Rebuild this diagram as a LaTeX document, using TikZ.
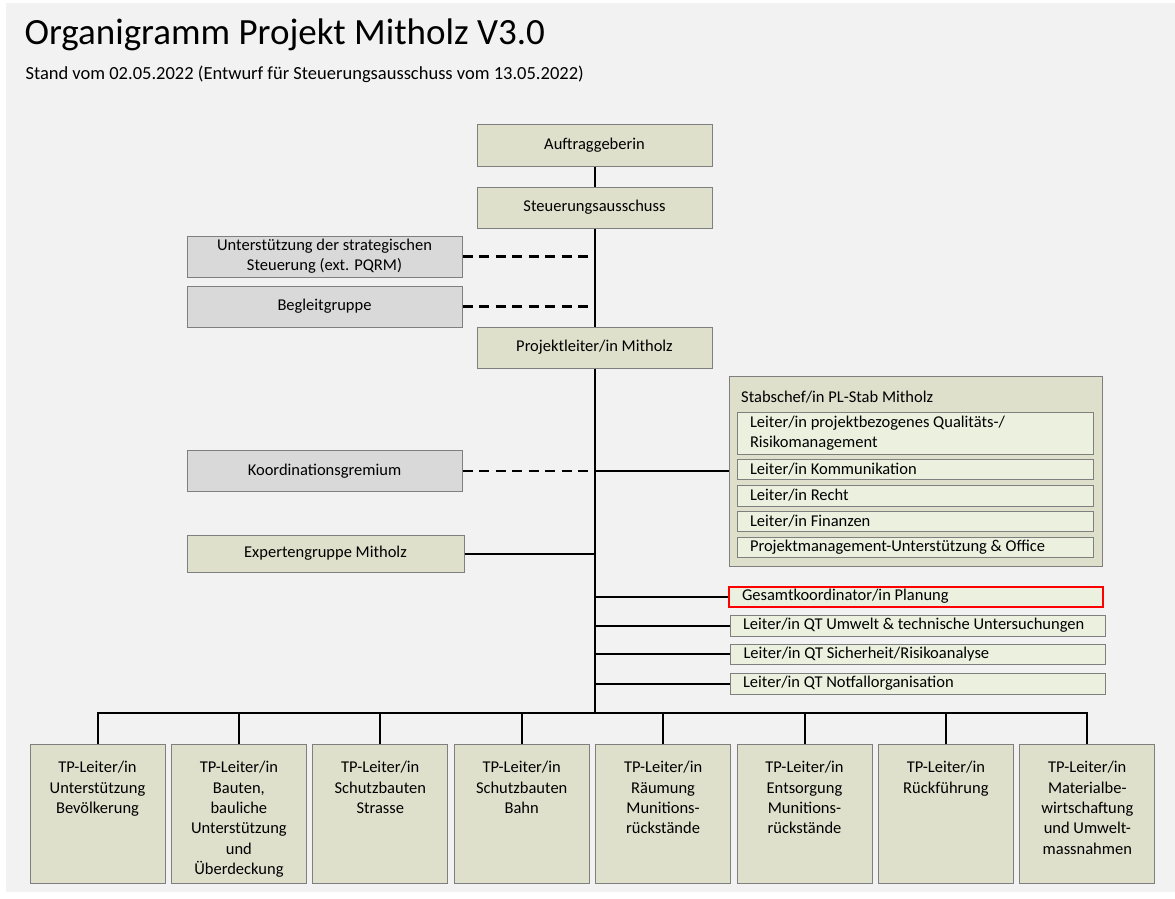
\documentclass[tikz,border=0pt]{standalone}
\usepackage{fontspec}
\setmainfont{Carlito}
\usepackage{tikz}

\definecolor{pagegray}{HTML}{F2F2F2}
\definecolor{olivebox}{HTML}{DEE0CB}
\definecolor{lightbox}{HTML}{EBF0DF}
\definecolor{graybox}{HTML}{D9D9D9}
\definecolor{boxline}{HTML}{7F7F7F}

\newcommand{\tptext}[1]{\parbox[t][105pt][t]{130pt}{\centering #1}}

\begin{document}
\begin{tikzpicture}[x=1pt, y=-1pt,
    box/.style={draw=boxline, fill=olivebox, line width=1pt, inner sep=0pt, align=flush center, font=\fontsize{16.5}{20.3}\selectfont},
    grey/.style={box, fill=graybox},
    stabitem/.style={draw=boxline, fill=lightbox, line width=1pt, inner xsep=13pt, inner ysep=0pt, text width=330pt, align=flush left, font=\fontsize{16.5}{20.5}\selectfont},
    qtitem/.style={stabitem, text width=349pt},
    tpbox/.style={box, anchor=north, minimum width=135pt, inner ysep=17pt},
    conn/.style={draw, line width=2pt},
    dashconn/.style={draw, line width=2.3pt, dash pattern=on 10pt off 6.5pt}]
    \fill[white] (0,0) rectangle (1175,899);
    \fill[pagegray] (6,3) rectangle (1175,892);

    \node[anchor=base west, font=\fontsize{37}{44}\selectfont] (title) at (21,45) {Organigramm Projekt Mitholz V3.0};
    \node[anchor=base west, font=\fontsize{18.5}{22}\selectfont] (subtitle) at (22,79) {Stand vom 02.05.2022 (Entwurf für Steuerungsausschuss vom 13.05.2022)};

    \node[box, minimum width=235pt, minimum height=42pt] (auftrag) at (594.5,145) {Auftraggeberin};
    \node[box, minimum width=235pt, minimum height=41pt] (steuer) at (594.5,207.5) {Steuerungsausschuss};
    \node[grey, minimum width=275pt, minimum height=41pt] (strat) at (324.5,256.5) {Unterstützung der strategischen\\Steuerung (ext. PQRM)};
    \node[grey, minimum width=275pt, minimum height=41pt] (begleit) at (324.5,306.5) {Begleitgruppe};
    \node[box, minimum width=235pt, minimum height=41pt] (pl) at (594.5,347.5) {Projektleiter/in Mitholz};
    \node[grey, minimum width=275pt, minimum height=41pt] (koord) at (324.5,471) {Koordinationsgremium};
    \node[box, minimum width=277pt, minimum height=37pt] (experten) at (325.5,553.5) {Expertengruppe Mitholz};

    % PL-Stab
    \node[box, minimum width=373pt, minimum height=190pt] (stab) at (915.5,471) {};
    \node[anchor=west, font=\fontsize{16.5}{20}\selectfont, inner sep=0pt] (stabchef) at (741,397) {Stabschef/in PL-Stab Mitholz};
    \node[stabitem, minimum height=42pt] (qrm) at (915,433) {Leiter/in projektbezogenes Qualitäts-/\\Risikomanagement};
    \node[stabitem, minimum height=20pt] (komm) at (915,469) {Leiter/in Kommunikation};
    \node[stabitem, minimum height=21pt] (recht) at (915,495.5) {Leiter/in Recht};
    \node[stabitem, minimum height=20pt] (finanz) at (915,521) {Leiter/in Finanzen};
    \node[stabitem, minimum height=20pt] (pmo) at (915,547) {Projektmanagement-Unterstützung \& Office};

    % Querschnitt
    \node[qtitem, draw=red, line width=2pt, minimum height=20pt, text width=348pt] (gesamt) at (916,596.5) {Gesamtkoordinator/in Planung};
    \node[qtitem, minimum height=21pt] (umwelt) at (917.5,625.5) {Leiter/in QT Umwelt \& technische Untersuchungen};
    \node[qtitem, minimum height=20pt] (sicher) at (918,654) {Leiter/in QT Sicherheit/Risikoanalyse};
    \node[qtitem, minimum height=21pt] (notfall) at (917.5,683.5) {Leiter/in QT Notfallorganisation};

    % Teilprojekte
    \node[tpbox] (tpa) at (97.5,744) {\tptext{TP-Leiter/in\\Unterstützung\\Bevölkerung}};
    \node[tpbox] (tpb) at (238.9,744) {\tptext{TP-Leiter/in\\Bauten,\\bauliche\\Unterstützung\\und\\Überdeckung}};
    \node[tpbox] (tpc) at (380.3,744) {\tptext{TP-Leiter/in\\Schutzbauten\\Strasse}};
    \node[tpbox] (tpd) at (521.7,744) {\tptext{TP-Leiter/in\\Schutzbauten\\Bahn}};
    \node[tpbox] (tpe) at (663.1,744) {\tptext{TP-Leiter/in\\Räumung\\Munitions-\\rückstände}};
    \node[tpbox] (tpf) at (804.5,744) {\tptext{TP-Leiter/in\\Entsorgung\\Munitions-\\rückstände}};
    \node[tpbox] (tpg) at (945.9,744) {\tptext{TP-Leiter/in\\Rückführung}};
    \node[tpbox] (tph) at (1087.3,744) {\tptext{TP-Leiter/in\\Materialbe-\\wirtschaftung\\und Umwelt-\\massnahmen}};

    \coordinate (bus) at (594.5,713);

    \draw[conn] (auftrag) -- (steuer);
    \draw[conn] (steuer) -- (pl);
    \draw[dashconn] (strat.east) -- (strat.east -| steuer.south);
    \draw[dashconn] (begleit.east) -- (begleit.east -| steuer.south);
    \draw[conn] (pl.south) -- (bus);
    \draw[dashconn] (koord.east) -- (koord.east -| pl.south);
    \draw[conn] (koord.east -| pl.south) -- (stab.west |- koord.east);
    \draw[conn] (experten.east) -- (experten.east -| pl.south);
    \draw[conn] (gesamt.west -| pl.south) -- (gesamt.west);
    \draw[conn] (umwelt.west -| pl.south) -- (umwelt.west);
    \draw[conn] (sicher.west -| pl.south) -- (sicher.west);
    \draw[conn] (notfall.west -| pl.south) -- (notfall.west);

    \draw[conn] (tpa.north) |- (bus) -| (tph.north);
    \draw[conn] (tpb.north) -- (tpb.north |- bus);
    \draw[conn] (tpc.north) -- (tpc.north |- bus);
    \draw[conn] (tpd.north) -- (tpd.north |- bus);
    \draw[conn] (tpe.north) -- (tpe.north |- bus);
    \draw[conn] (tpf.north) -- (tpf.north |- bus);
    \draw[conn] (tpg.north) -- (tpg.north |- bus);
\end{tikzpicture}
\end{document}
